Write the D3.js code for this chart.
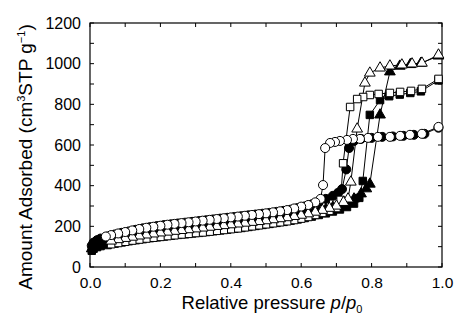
<!DOCTYPE html>
<html>
<head>
<meta charset="utf-8">
<script src="https://cdn.jsdelivr.net/npm/d3@7"></script>
<style>
  body { margin: 0; background: #fff; }
  text { font-family: "Liberation Sans", Arial, sans-serif; fill: #000; }
</style>
</head>
<body>
<svg id="chart" width="455" height="327"></svg>
<script>
// Sample 1 (circles)
const circAdsP = [0.005,0.01,0.02,0.03,0.05,0.07,0.09,0.11,0.13,0.15,0.17,0.19,0.21,0.23,0.25,0.27,0.29,0.31,0.33,0.35,0.37,0.39,0.41,0.43,0.45,0.47,0.49,0.51,0.53,0.55,0.57,0.59,0.61,0.63,0.65,0.67,0.69,0.705,0.716,0.728,0.736,0.75,0.77,0.80,0.83,0.86,0.89,0.92,0.95,0.99];
const circAdsV = [105,120,132,140,150,160,168,175,183,190,196,201,206,210,214,218,222,226,230,234,238,242,246,250,254,258,262,266,271,276,282,290,298,308,320,335,350,365,383,480,585,620,630,635,640,642,645,650,655,685];
const circDesP = [0.99,0.943,0.909,0.881,0.852,0.818,0.79,0.767,0.747,0.73,0.71,0.696,0.682,0.668,0.662,0.655,0.64,0.62,0.60,0.58,0.56,0.54,0.52,0.50,0.48,0.46,0.44,0.42,0.40,0.38,0.36,0.34,0.32,0.30,0.28,0.26,0.24,0.22,0.20,0.18,0.16,0.14,0.12,0.10,0.08,0.06,0.045];
const circDesV = [689,655,650,645,640,640,635,630,630,625,620,615,610,585,403,335,318,305,297,288,280,274,269,264,260,256,252,248,244,240,236,232,228,224,220,216,212,208,203,198,193,187,180,172,165,157,150];

// Sample 2 (squares)
const sqAdsP = [0.005,0.01,0.02,0.03,0.05,0.07,0.09,0.11,0.13,0.15,0.17,0.19,0.21,0.23,0.25,0.27,0.29,0.31,0.33,0.35,0.37,0.39,0.41,0.43,0.45,0.47,0.49,0.51,0.53,0.55,0.57,0.59,0.61,0.63,0.65,0.67,0.69,0.71,0.73,0.75,0.765,0.775,0.795,0.824,0.85,0.88,0.91,0.94,0.99];
const sqAdsV = [80,90,98,103,108,115,121,127,132,137,142,146,150,154,158,161,165,168,172,176,180,184,188,192,197,202,207,212,217,222,228,234,241,248,256,264,273,283,295,312,340,423,748,821,840,848,856,864,918];
const sqDesP = [0.99,0.943,0.912,0.881,0.852,0.82,0.795,0.776,0.759,0.739,0.719,0.712,0.70,0.68,0.66,0.64,0.62,0.60,0.58,0.56,0.54,0.52,0.50,0.48,0.46,0.44,0.42,0.40,0.38,0.36,0.34,0.32,0.30,0.28,0.26,0.24,0.22,0.20,0.18,0.16,0.14,0.12,0.10,0.08,0.06];
const sqDesV = [925,876,866,861,856,851,846,836,826,787,510,330,290,276,266,256,246,238,231,225,220,215,210,205,200,195,190,186,182,178,174,170,167,163,160,156,152,148,144,140,135,130,124,118,112];

// Sample 3 (triangles)
const triAdsP = [0.005,0.01,0.02,0.03,0.05,0.07,0.09,0.11,0.13,0.15,0.17,0.19,0.21,0.23,0.25,0.27,0.29,0.31,0.33,0.35,0.37,0.39,0.41,0.43,0.45,0.47,0.49,0.51,0.53,0.55,0.57,0.59,0.61,0.63,0.65,0.67,0.69,0.71,0.73,0.75,0.77,0.785,0.795,0.824,0.852,0.88,0.91,0.94,0.99];
const triAdsV = [90,100,110,117,125,132,139,145,151,156,161,166,170,174,178,182,186,190,194,198,202,206,210,214,218,222,226,231,236,241,247,253,260,267,275,284,294,305,318,335,360,385,408,748,960,988,996,1002,1038];
const triDesP = [0.99,0.943,0.915,0.886,0.852,0.824,0.795,0.781,0.759,0.741,0.733,0.72,0.70,0.68,0.66,0.64,0.62,0.60,0.58,0.56,0.54,0.52,0.50,0.48,0.46,0.44,0.42,0.40,0.38,0.36,0.34,0.32,0.30,0.28,0.26,0.24,0.22,0.20,0.18,0.16,0.14,0.12,0.10,0.08,0.06];
const triDesV = [1043,1003,999,994,989,979,954,905,679,418,335,318,300,289,279,270,262,255,249,243,238,233,228,224,220,216,212,208,204,200,196,192,188,184,180,176,172,168,163,158,153,147,141,135,128];

// Axis ticks
const xTicks = [0, 0.2, 0.4, 0.6, 0.8, 1.0];
const yTicks = [0, 200, 400, 600, 800, 1000, 1200];

const margin = {top: 23, right: 13, bottom: 60, left: 90},
    width = 455 - margin.left - margin.right,
    height = 327 - margin.top - margin.bottom;

const svg = d3.select("#chart")
  .append("g")
  .attr("transform", `translate(${margin.left},${margin.top})`);

const x = d3.scaleLinear().domain([0, 1]).range([0, width]);
const y = d3.scaleLinear().domain([0, 1200]).range([height, 0]);

// Axes, ticks pointing inward on all four sides
const xMinor = d3.range(0, 1.0001, 0.1);
const yMinor = d3.range(0, 1201, 100);

svg.append("g")
  .attr("transform", `translate(0,${height})`)
  .call(d3.axisBottom(x).tickValues(xTicks).tickFormat(d3.format(".1f")).tickSize(0).tickPadding(10))
  .call(g => g.select(".domain").remove())
  .selectAll("text").style("font-size", "15.5px").attr("font-family", null);

svg.append("g")
  .call(d3.axisLeft(y).tickValues(yTicks).tickFormat(d3.format("d")).tickSize(0).tickPadding(9))
  .call(g => g.select(".domain").remove())
  .selectAll("text").style("font-size", "16px").attr("font-family", null);

const tl = 4;
const tickG = svg.append("g").attr("stroke", "#000").attr("stroke-width", 1);
xMinor.forEach(v => {
  tickG.append("line").attr("x1", x(v)).attr("x2", x(v)).attr("y1", height).attr("y2", height - tl);
  tickG.append("line").attr("x1", x(v)).attr("x2", x(v)).attr("y1", 0).attr("y2", tl);
});
yMinor.forEach(v => {
  tickG.append("line").attr("x1", 0).attr("x2", tl).attr("y1", y(v)).attr("y2", y(v));
  tickG.append("line").attr("x1", width).attr("x2", width - tl).attr("y1", y(v)).attr("y2", y(v));
});

svg.append("rect")
  .attr("width", width).attr("height", height)
  .attr("fill", "none").attr("stroke", "#000").attr("stroke-width", 1.2);

// Series
const zip = (ps, vs) => ps.map((p, i) => ({p: p, v: vs[i]}));
const series = [
  {data: zip(sqAdsP, sqAdsV), shape: "square", fill: "#000"},
  {data: zip(triAdsP, triAdsV), shape: "triangle", fill: "#000"},
  {data: zip(circAdsP, circAdsV), shape: "circle", fill: "#000"},
  {data: zip(sqDesP, sqDesV), shape: "square", fill: "#fff"},
  {data: zip(triDesP, triDesV), shape: "triangle", fill: "#fff"},
  {data: zip(circDesP, circDesV), shape: "circle", fill: "#fff"}
];

const line = d3.line().x(d => x(d.p)).y(d => y(d.v));
const symbols = {
  circle: d3.symbol().type(d3.symbolCircle).size(64),
  square: d3.symbol().type(d3.symbolSquare).size(56),
  triangle: d3.symbol().type(d3.symbolTriangle).size(50)
};

const plot = svg.append("g");
series.forEach(s => {
  plot.append("path")
    .datum(s.data)
    .attr("d", line)
    .attr("fill", "none")
    .attr("stroke", "#000")
    .attr("stroke-width", 1);
});
series.forEach(s => {
  plot.append("g").selectAll("path")
    .data(s.data)
    .join("path")
    .attr("transform", d => `translate(${x(d.p)},${y(d.v)})`)
    .attr("d", symbols[s.shape])
    .attr("fill", s.fill)
    .attr("stroke", "#000")
    .attr("stroke-width", 1);
});

// X axis label
const xl = svg.append("text")
  .attr("text-anchor", "middle")
  .attr("x", 272 - margin.left)
  .attr("y", 309 - margin.top)
  .style("font-size", "18.5px");
xl.append("tspan").text("Relative pressure ");
xl.append("tspan").style("font-style", "italic").text("p");
xl.append("tspan").text("/");
xl.append("tspan").style("font-style", "italic").text("p");
xl.append("tspan").attr("dy", 4).style("font-size", "11px").text("0");

// Y axis label
const yl = svg.append("text")
  .attr("text-anchor", "middle")
  .attr("transform", `translate(${32 - margin.left},${157 - margin.top})rotate(-90)`)
  .style("font-size", "19px");
yl.append("tspan").text("Amount Adsorbed (cm");
yl.append("tspan").attr("dy", -7).style("font-size", "11px").text("3");
yl.append("tspan").attr("dy", 7).text("STP g");
yl.append("tspan").attr("dy", -7).style("font-size", "11px").text("\u22121");
yl.append("tspan").attr("dy", 7).text(")");
</script>
</body>
</html>
